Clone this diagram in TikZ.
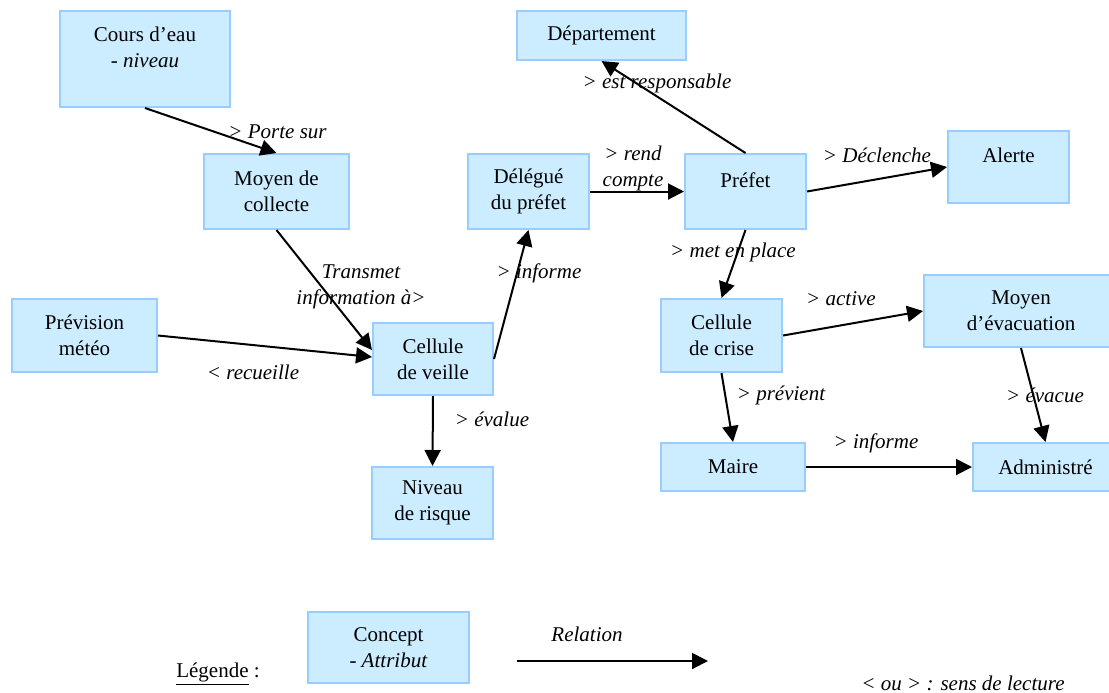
\documentclass[tikz,border=0pt]{standalone}
\usepackage{fontspec}
\setmainfont{Liberation Serif}
\usepackage{tikz}
\usetikzlibrary{arrows.meta}
\usepackage{xcolor}
\definecolor{fondconcept}{RGB}{204,236,255}
\definecolor{bordconcept}{RGB}{153,204,255}

\begin{document}
\begin{tikzpicture}[x=0.5pt,y=-0.5pt,
		concept/.style={draw=bordconcept,line width=1pt,fill=fondconcept,align=center,inner sep=0pt,font=\fontsize{10.5}{13}\selectfont},
		rel/.style={line width=1pt,-{Triangle[length=8pt,width=8pt]}},
		lbl/.style={align=center,inner sep=0pt,font=\fontsize{10.5}{13}\selectfont\itshape}]
			\useasboundingbox (0,0) rectangle (1109,692);
			%concepts
			\node[concept,minimum width=85pt,minimum height=48pt] (cours) at (145,59) {Cours d’eau\\\textit{- niveau}\\[-5pt]\strut};
			\node[concept,minimum width=72.5pt,minimum height=37.5pt] (collecte) at (276.5,191.5) {Moyen de\\collecte};
			\node[concept,minimum width=84.5pt,minimum height=24.5pt] (dept) at (601.5,35.5) {Département};
			\node[concept,minimum width=60.5pt,minimum height=37.5pt] (delegue) at (528.5,191.5) {Délégué\\du préfet};
			\node[concept,minimum width=60.5pt,minimum height=37.5pt] (prefet) at (745.5,191.5) {Préfet\\[-5pt]\strut};
			\node[concept,minimum width=60.5pt,minimum height=36pt] (alerte) at (1008.5,167) {Alerte\\[-5pt]\strut};
			\node[concept,minimum width=72.5pt,minimum height=36.5pt] (prevision) at (84.5,335.5) {Prévision\\météo};
			\node[concept,minimum width=60pt,minimum height=36pt] (veille) at (433,359) {Cellule\\de veille};
			\node[concept,minimum width=60.5pt,minimum height=36pt] (niveau) at (432.5,503) {Niveau\\de risque};
			\node[concept,minimum width=60.5pt,minimum height=36.5pt] (crise) at (721.5,335.5) {Cellule\\de crise};
			\node[concept,minimum width=97pt,minimum height=36pt] (evac) at (1021,311) {Moyen\\d’évacuation};
			\node[concept,minimum width=72pt,minimum height=24pt] (maire) at (733,467) {Maire};
			\node[concept,minimum width=72.5pt,minimum height=24pt] (admin) at (1045.5,467) {Administré};
			%relations
			\draw[rel] (cours.south) -- (collecte.north);
			\draw[rel] (prefet.north) -- (dept.south);
			\draw[rel] (delegue.east) -- (prefet.west);
			\draw[rel] (prefet.east) -- (alerte.west);
			\draw[rel] (collecte.south) -- ([yshift=4.5pt]veille.west);
			\draw[rel] (prevision.east) -- ([yshift=1pt]veille.west);
			\draw[rel] (veille.east) -- (delegue.south);
			\draw[rel] (veille.south) -- (niveau.north);
			\draw[rel] (prefet.south) -- (crise.north);
			\draw[rel] (crise.east) -- (evac.west);
			\draw[rel] (crise.south) -- (maire.north);
			\draw[rel] (evac.south) -- (admin.north);
			\draw[rel] (maire.east) -- (admin.west);
			%textes des relations
			\node[lbl] (lPorte) at (277.5,132) {> Porte sur};
			\node[lbl] (lResp) at (657,83) {> est responsable};
			\node[lbl] (lRend) at (633,168) {> rend\\compte};
			\node[lbl] (lDecl) at (877,155) {> Déclenche};
			\node[lbl] (lTrans) at (361,287) {Transmet\\information à>};
			\node[lbl] (lRecu) at (253,372) {< recueille};
			\node[lbl] (lInfoA) at (539,273) {> informe};
			\node[lbl] (lEval) at (492,419) {> évalue};
			\node[lbl] (lPlace) at (733,252) {> met en place};
			\node[lbl] (lActive) at (841,299) {> active};
			\node[lbl] (lPrev) at (781,395) {> prévient};
			\node[lbl] (lEvac) at (1045,395) {> évacue};
			\node[lbl] (lInfoB) at (876,443) {> informe};
			%légende
			\node[concept,minimum width=80.5pt,minimum height=35.5pt] (legConcept) at (388.5,647.5) {Concept\\\textit{- Attribut}};
			\node[lbl,font=\fontsize{10.5}{13}\selectfont] (legTitre) at (218,674) {\underline{Légende} :};
			\coordinate (relDebut) at (517,661);
			\coordinate (relFin) at (708,661);
			\draw[rel] (relDebut) -- (relFin);
			\node[lbl] (legRel) at (587,634) {Relation};
			\node[lbl] (legSens) at (963,683) {< ou > : sens de lecture};
		\end{tikzpicture}
\end{document}
